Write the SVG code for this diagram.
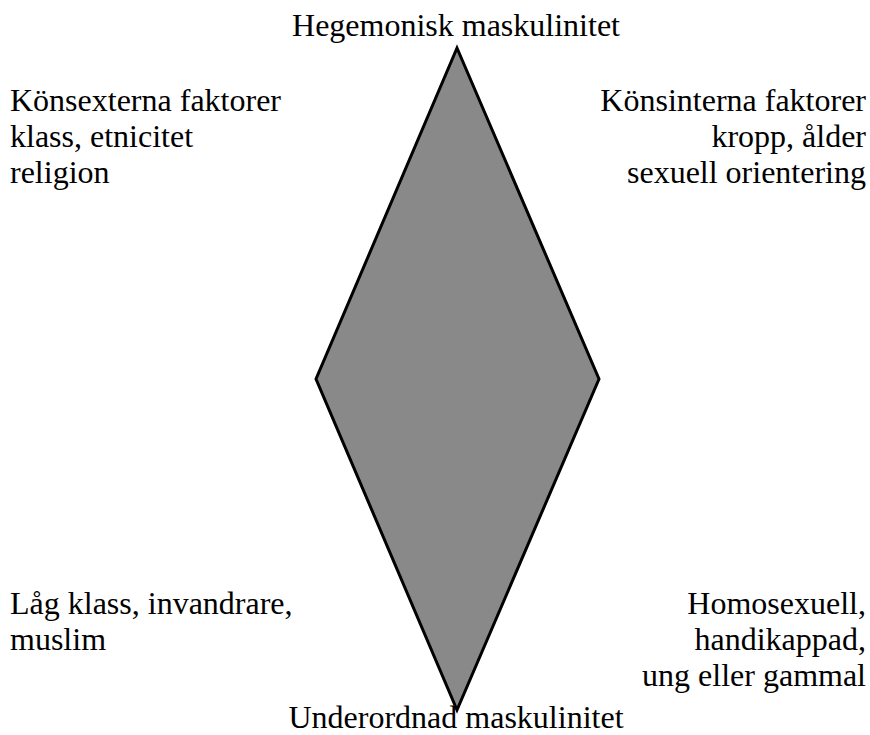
<svg xmlns="http://www.w3.org/2000/svg" width="870" height="735" viewBox="0 0 870 735">
<style>
text{font-family:"Liberation Serif","Times New Roman",serif;font-size:32px;fill:#000}
.r{text-anchor:end}
.m{text-anchor:middle}
.shape{fill:#898989;stroke:#000;stroke-width:3;stroke-linejoin:miter}
</style>
<rect width="870" height="735" fill="#fff"/>
<g id="diamond"><polygon class="shape" points="457,48 599,379 457,710 316,379"/></g>
<g id="top"><text class="m" x="456" y="36">Hegemonisk maskulinitet</text></g>
<g id="bottom"><text class="m" x="456" y="728">Underordnad maskulinitet</text></g>
<g id="topleft"><text x="10" y="111">Könsexterna faktorer</text><text x="10" y="147">klass, etnicitet</text><text x="10" y="183">religion</text></g>
<g id="topright"><text class="r" x="866" y="111">Könsinterna faktorer</text><text class="r" x="866" y="147">kropp, ålder</text><text class="r" x="866" y="183">sexuell orientering</text></g>
<g id="bottomleft"><text x="10" y="614">Låg klass, invandrare,</text><text x="10" y="650">muslim</text></g>
<g id="bottomright"><text class="r" x="866" y="614">Homosexuell,</text><text class="r" x="866" y="650">handikappad,</text><text class="r" x="866" y="686">ung eller gammal</text></g>
<g id="connectors"/>
</svg>
